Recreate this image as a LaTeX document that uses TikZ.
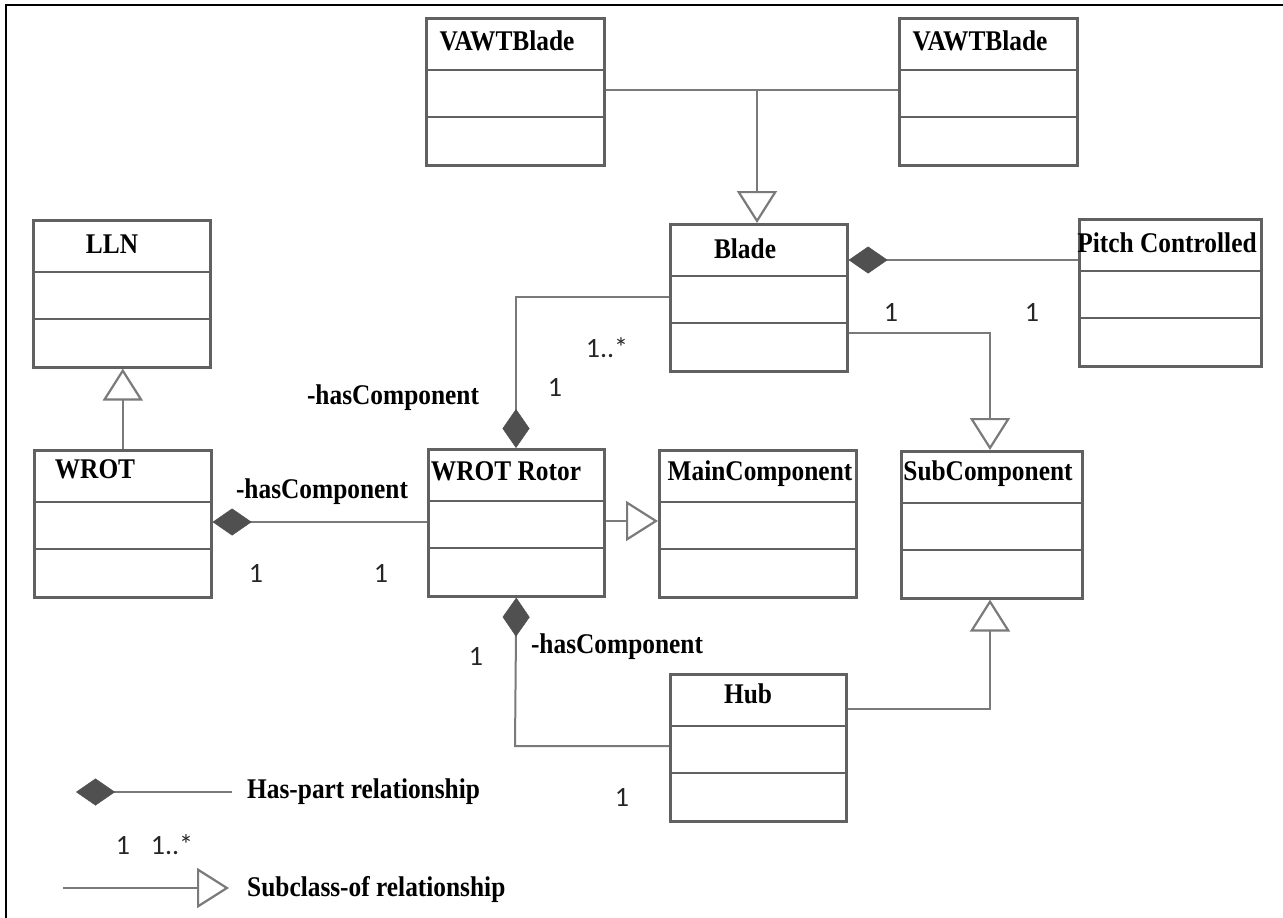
\documentclass[tikz,border=0pt]{standalone}
\usepackage{fontspec}
\usetikzlibrary{arrows.meta,calc}

\newfontfamily\titlefont[FakeStretch=0.89]{Liberation Serif}
\newfontfamily\multfont{Carlito}

\definecolor{boxgray}{HTML}{616161}
\definecolor{linegray}{HTML}{7A7A7A}
\definecolor{diagray}{HTML}{505050}
\definecolor{multgray}{HTML}{262626}

\tikzset{
  x=1pt, y=-1pt,
  classbox/.style={draw=boxgray, line width=2.6pt, fill=white, minimum height=147pt, inner sep=0pt},
  divider/.style={draw=boxgray, line width=2.6pt},
  titletext/.style={font=\titlefont\bfseries\fontsize{28.5}{31}\selectfont, text=black, inner sep=0pt, anchor=base},
  multtext/.style={font=\multfont\fontsize{28}{30}\selectfont, text=multgray, inner sep=0pt},
  roletext/.style={font=\titlefont\bfseries\fontsize{28.5}{31}\selectfont, text=black, inner sep=0pt, anchor=base},
  conn/.style={draw=linegray, line width=2pt},
  subtip/.tip={Triangle[open, length=32pt, width=40pt, fill=white, line width=2.2pt]},
  parttip/.tip={Diamond[length=39pt, width=27pt, fill=diagray, color=diagray, line width=0.5pt]},
}

% class box: name, left x, top y, right x, title centre x, title baseline y, title
\newcommand\umlclass[7]{%
  \node[classbox, minimum width={#4-#2}, anchor=north west] (#1) at (#2,#3) {};
  \draw[divider] ($(#1.north west)+(0,53)$) -- ($(#1.north east)+(0,53)$);
  \draw[divider] ($(#1.north west)+(0,100)$) -- ($(#1.north east)+(0,100)$);
  \node[titletext] (#1-title) at (#5,#6) {#7};
}

\begin{document}
\begin{tikzpicture}
\useasboundingbox (0,0) rectangle (1283,918);

% frame lines
\coordinate (fbl) at (6,918);
\coordinate (ftl) at (6,5);
\coordinate (ftr) at (1283,5);
\draw[black, line width=1.6pt] (fbl) -- (ftl) -- (ftr);

% classes
\umlclass{vawtL}{425}{17}{603}{507}{50}{VAWTBlade}
\umlclass{vawtR}{898}{17}{1076}{980}{50}{VAWTBlade}
\umlclass{blade}{669}{223}{846}{745}{258}{Blade}
\umlclass{pitch}{1078}{218}{1260}{1167}{252}{Pitch Controlled}
\umlclass{lln}{32}{219}{209}{112}{253}{LLN}
\umlclass{wrot}{33}{449}{210}{95}{478}{WROT}
\umlclass{rotor}{427}{448}{603}{506}{480}{WROT Rotor}
\umlclass{mainc}{658}{449}{855}{760}{480}{MainComponent}
\umlclass{subc}{900}{450}{1081}{988}{480}{SubComponent}
\umlclass{hub}{669}{673}{845}{748}{703}{Hub}

% bend points of the connectors
\coordinate (jv) at (757,90);
\coordinate (bp) at (0,260);
\coordinate (br) at (516,297);
\coordinate (bs) at (990,333);
\coordinate (wr) at (0,522);
\coordinate (rm) at (0,521);
\coordinate (rh) at (515,746);
\coordinate (hs) at (990,709);

% subclass-of links
\draw[conn] (vawtL.east |- jv) -- (vawtR.west |- jv);
\draw[conn, -{subtip}] (jv) -- (jv |- blade.north);
\draw[conn, -{subtip}] (blade.east |- bs) -- (bs) -- (bs |- subc.north);
\draw[conn, -{subtip}] (wrot.north) -- (wrot.north |- lln.south);
\draw[conn, -{subtip}] (rotor.east |- rm) -- (mainc.west |- rm);
\draw[conn, -{subtip}] (hub.east |- hs) -- (hs) -- (hs |- subc.south);

% has-part links
\draw[conn, {parttip}-] (blade.east |- bp) -- (pitch.west |- bp);
\draw[conn, -{parttip}] (blade.west |- br) -- (br) -- (br |- rotor.north);
\draw[conn, {parttip}-] (wrot.east |- wr) -- (rotor.west |- wr);
\draw[conn, {parttip}-] (rotor.south) -- (rh) -- (hub.west |- rh);

% role names
\node[roletext] (role1) at (322,498) {-hasComponent};
\node[roletext] (role2) at (393,404) {-hasComponent};
\node[roletext] (role3) at (617,653) {-hasComponent};

% multiplicities
\node[multtext] (m1) at (256,573) {1};
\node[multtext] (m2) at (381,573) {1};
\node[multtext] (m3) at (555,387) {1};
\node[multtext] (m4) at (607,348) {1..*};
\node[multtext] (m5) at (891,312) {1};
\node[multtext] (m6) at (1032,312) {1};
\node[multtext] (m7) at (476,656) {1};
\node[multtext] (m8) at (622,797) {1};

% legend
\coordinate (lga) at (232,792);
\coordinate (lgb) at (76,792);
\draw[conn, -{parttip}] (lga) -- (lgb);
\node[roletext, anchor=base west] (lgtext1) at (247,798) {Has-part relationship};
\node[multtext] (lgm1) at (123,845) {1};
\node[multtext] (lgm2) at (172,845) {1..*};
\coordinate (lsa) at (63,888);
\coordinate (lsb) at (229,888);
\draw[conn, -{subtip}] (lsa) -- (lsb);
\node[roletext, anchor=base west] (lgtext2) at (247,896) {Subclass-of relationship};
\end{tikzpicture}
\end{document}
